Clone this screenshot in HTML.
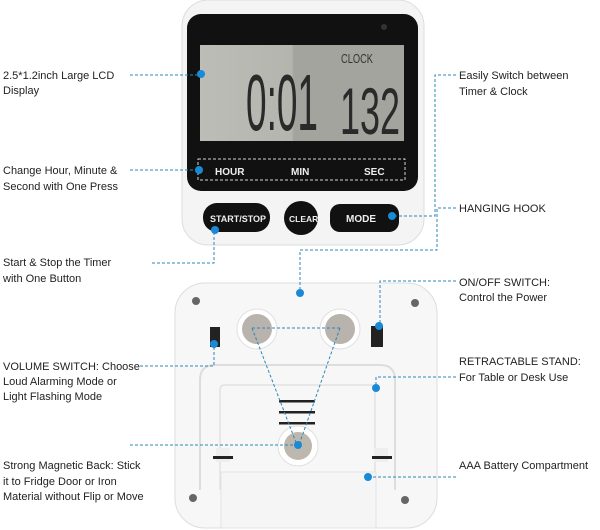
<!DOCTYPE html>
<html><head><style>
body{margin:0;background:#fff;}
svg{display:block}
text{font-family:"Liberation Sans",sans-serif;font-size:11px;fill:#222}
.d{stroke:#2f86b8;stroke-width:1;stroke-dasharray:3,2;fill:none}
.dot{fill:#1a8ad6}
</style></head><body>
<svg width="600" height="530" viewBox="0 0 600 530">
<defs>
<linearGradient id="lcd" x1="0" x2="1"><stop offset="0" stop-color="#bcbdb6"/><stop offset="0.45" stop-color="#b4b5ae"/><stop offset="0.46" stop-color="#a3a49d"/><stop offset="1" stop-color="#a3a49d"/></linearGradient>
</defs>
<rect x="182" y="0" width="242" height="245" rx="26" fill="#f4f4f4" stroke="#ddd"/>
<rect x="187" y="14" width="231" height="177" rx="14" fill="#111"/>
<circle cx="384" cy="27" r="3" fill="#333"/>
<rect x="200" y="45" width="204" height="96" fill="url(#lcd)"/>
<text x="341" y="63" textLength="32" lengthAdjust="spacingAndGlyphs" style="font-size:13px;fill:#333">CLOCK</text>
<text x="246" y="130" textLength="72" lengthAdjust="spacingAndGlyphs" style="font-size:80px;fill:#2a2a2a">0:01</text>
<text x="340" y="134" textLength="60" lengthAdjust="spacingAndGlyphs" style="font-size:66px;fill:#2a2a2a">132</text>
<rect x="198" y="159" width="207" height="21" fill="none" stroke="#cfd8e0" stroke-dasharray="3,2"/>
<text x="215" y="175" style="font-size:10px;font-weight:bold;fill:#eee">HOUR</text>
<text x="291" y="175" style="font-size:10px;font-weight:bold;fill:#eee">MIN</text>
<text x="364" y="175" style="font-size:10px;font-weight:bold;fill:#eee">SEC</text>
<rect x="203" y="203" width="67" height="29" rx="14" fill="#111"/>
<text x="210" y="222" textLength="56" lengthAdjust="spacingAndGlyphs" style="font-size:9.5px;font-weight:bold;fill:#eee">START/STOP</text>
<circle cx="301" cy="218" r="17" fill="#111"/>
<text x="289" y="222" style="font-size:8.5px;font-weight:bold;fill:#eee">CLEAR</text>
<rect x="330" y="204" width="69" height="28" rx="10" fill="#111"/>
<text x="346" y="222" style="font-size:10px;font-weight:bold;fill:#eee">MODE</text>
<rect x="175" y="283" width="262" height="245" rx="30" fill="#f7f7f7" stroke="#ddd"/>
<circle cx="196" cy="301" r="4" fill="#666"/><circle cx="415" cy="303" r="4" fill="#666"/>
<circle cx="193" cy="498" r="4" fill="#666"/><circle cx="405" cy="500" r="4" fill="#666"/>
<rect x="210" y="327" width="10" height="20" fill="#222"/>
<rect x="371" y="326" width="12" height="21" fill="#222"/>
<circle cx="257" cy="329" r="20" fill="#fff" stroke="#e0e0e0"/><circle cx="257" cy="329" r="15" fill="#b8b3ac"/>
<circle cx="340" cy="329" r="20" fill="#fff" stroke="#e0e0e0"/><circle cx="340" cy="329" r="15" fill="#b8b3ac"/>
<path d="M200 490 V380 Q200 365 215 365 H380 Q395 365 395 380 V490" fill="none" stroke="#ddd" stroke-width="2"/>
<path d="M220 490 V390 Q220 385 225 385 H370 Q375 385 375 390 V490" fill="none" stroke="#e2e2e2" stroke-width="1.5"/>
<rect x="216" y="448" width="14" height="14" fill="#eee"/><rect x="213" y="456" width="20" height="3" fill="#222"/>
<rect x="374" y="448" width="14" height="14" fill="#eee"/><rect x="372" y="456" width="20" height="3" fill="#222"/>
<rect x="279" y="400" width="36" height="2.5" fill="#222"/><rect x="279" y="411" width="36" height="2.5" fill="#222"/><rect x="279" y="422" width="36" height="2.5" fill="#222"/>
<circle cx="298" cy="446" r="20" fill="#fff" stroke="#e0e0e0"/><circle cx="298" cy="446" r="14" fill="#bdb7ae"/>
<rect x="221" y="472" width="155" height="56" fill="#f5f5f5" stroke="#e3e3e3"/>
<text x="3" y="79">2.5*1.2inch Large LCD</text><text x="3" y="94">Display</text>
<path class="d" d="M130 75 H201"/><circle class="dot" cx="201" cy="74" r="4"/>
<text x="3" y="174">Change Hour, Minute &amp;</text><text x="3" y="190">Second with One Press</text>
<path class="d" d="M130 170 H199"/><circle class="dot" cx="199" cy="170" r="4"/>
<text x="3" y="266">Start &amp; Stop the Timer</text><text x="3" y="282">with One Button</text>
<path class="d" d="M152 263 H214 V231"/><circle class="dot" cx="215" cy="230" r="4"/>
<text x="3" y="370">VOLUME SWITCH: Choose</text><text x="3" y="385">Loud Alarming Mode or</text><text x="3" y="400">Light Flashing Mode</text>
<path class="d" d="M140 366 H214 V344"/><circle class="dot" cx="214" cy="344" r="4"/>
<text x="3" y="469">Strong Magnetic Back: Stick</text><text x="3" y="485">it to Fridge Door or Iron</text><text x="3" y="500">Material without Flip or Move</text>
<path class="d" d="M130 445 H298"/><circle class="dot" cx="298" cy="445" r="4"/>
<path class="d" d="M252 328 H340 M252 328 L297 445 M340 328 L299 445"/>
<text x="459" y="79">Easily Switch between</text><text x="459" y="95">Timer &amp; Clock</text>
<path class="d" d="M456 75 H435 V216 H392"/><circle class="dot" cx="392" cy="216" r="4"/>
<text x="459" y="212">HANGING HOOK</text>
<path class="d" d="M456 208 H437 V250 H300 V293"/><circle class="dot" cx="300" cy="293" r="4"/>
<text x="459" y="286">ON/OFF SWITCH:</text><text x="459" y="301">Control the Power</text>
<path class="d" d="M456 281 H380 V325"/><circle class="dot" cx="379" cy="326" r="4"/>
<text x="459" y="365">RETRACTABLE STAND:</text><text x="459" y="381">For Table or Desk Use</text>
<path class="d" d="M456 377 H376 V387"/><circle class="dot" cx="376" cy="388" r="4"/>
<text x="459" y="469">AAA Battery Compartment</text>
<path class="d" d="M456 477 H368"/><circle class="dot" cx="368" cy="477" r="4"/>
</svg>
</body></html>
